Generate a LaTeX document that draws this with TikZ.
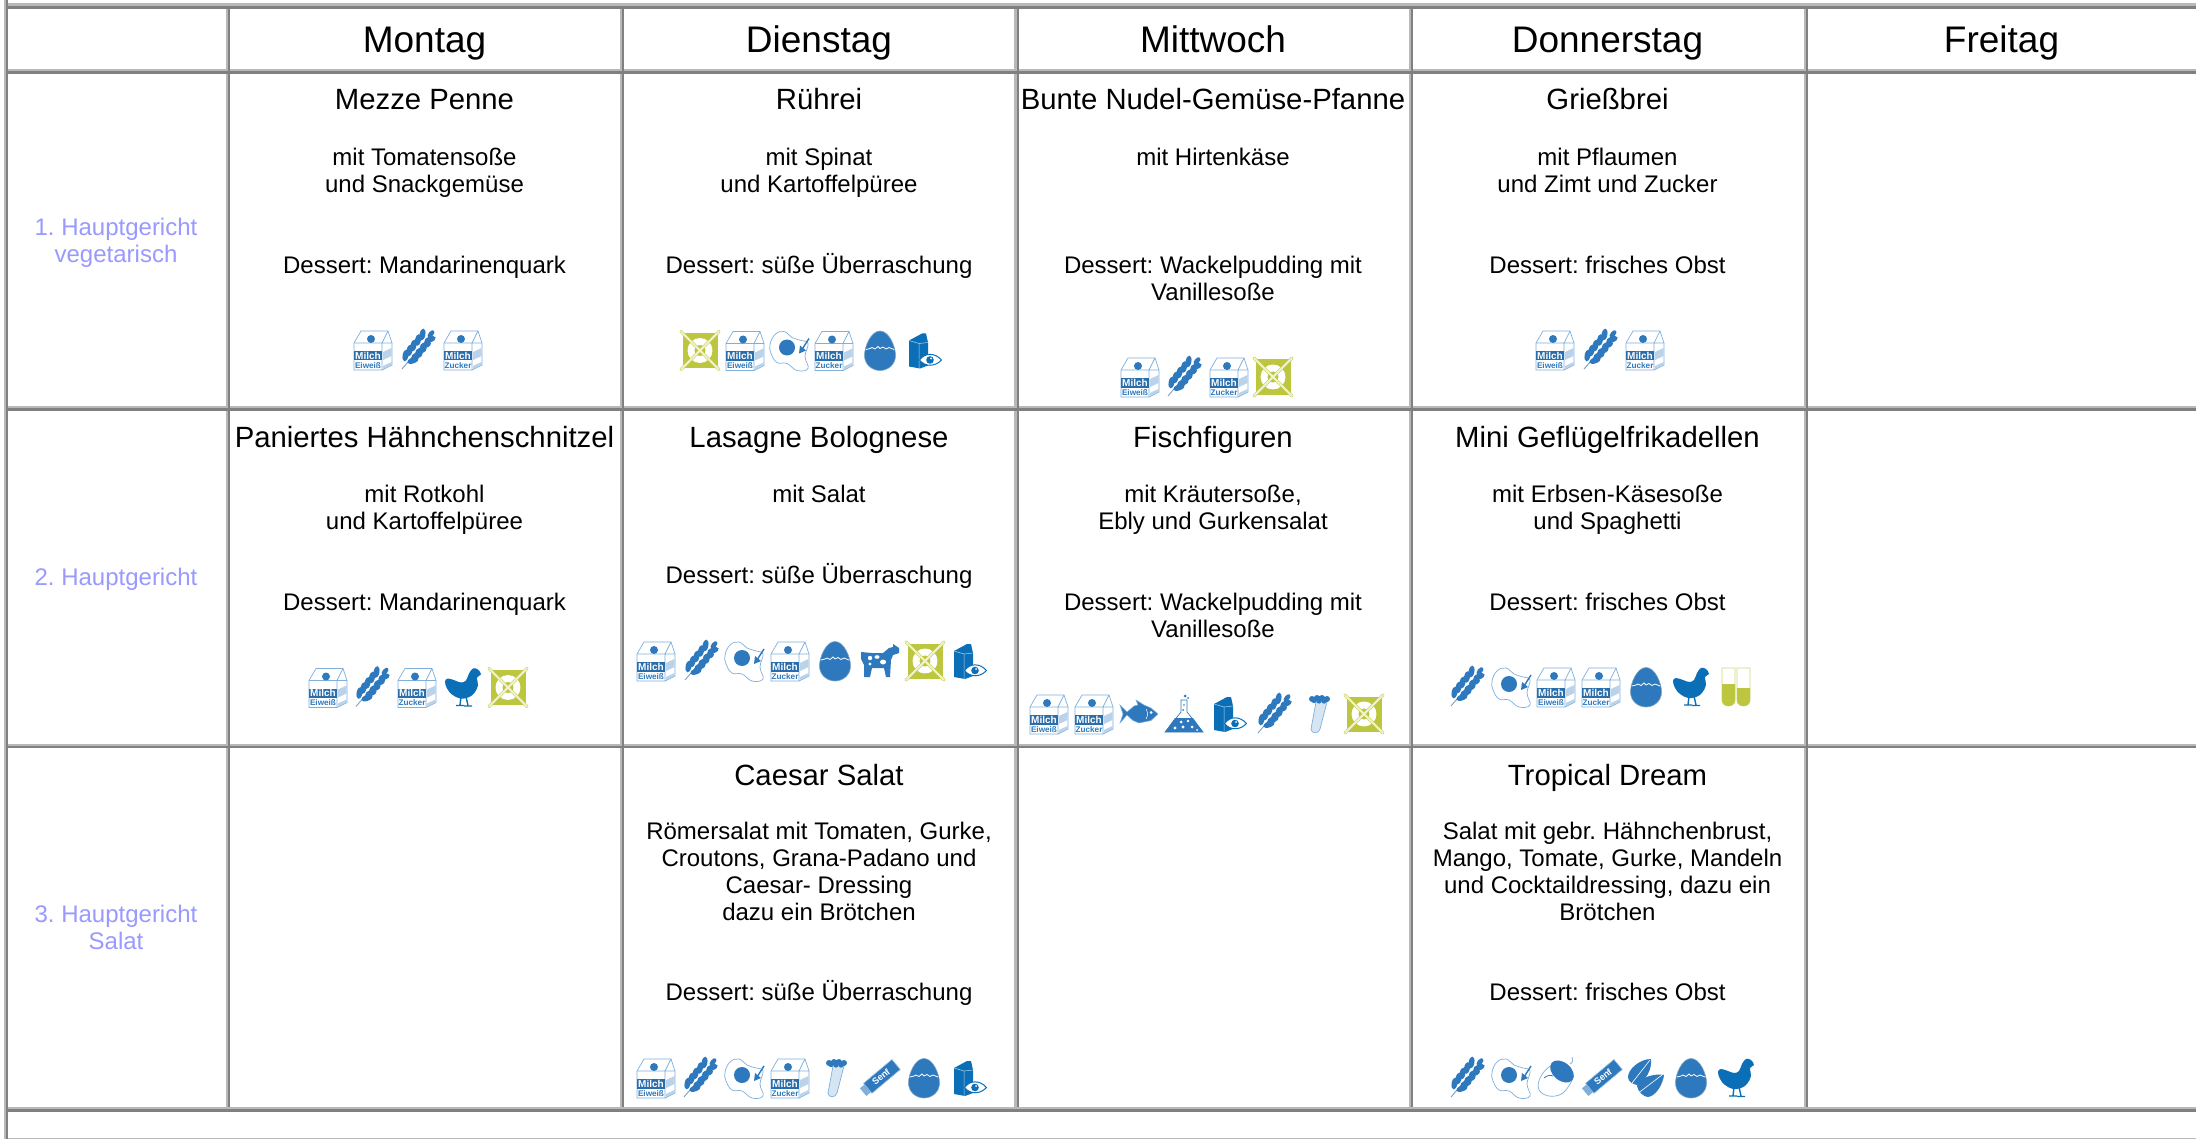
\documentclass[tikz,border=0pt]{standalone}
\usepackage{fontspec}
\setmainfont{Liberation Sans}
\AtBeginDocument{\frenchspacing}
\definecolor{gridlight}{HTML}{B8B8B8}
\definecolor{griddark}{HTML}{808080}
\definecolor{labelblue}{HTML}{9999FF}
\definecolor{iconblue}{HTML}{2E79BD}
\definecolor{deepblue}{HTML}{0B6FB8}
\definecolor{paleblue}{HTML}{7FB0DC}
\definecolor{hatchblue}{HTML}{BAD3EA}
\definecolor{olive}{HTML}{BCC63F}
\definecolor{palecross}{HTML}{F1F3CE}
\tikzset{
  x=0.5pt,y=-0.5pt,
  gl/.style={fill=gridlight,draw=none},
  gd/.style={fill=griddark,draw=none},
  head/.style={anchor=base,font=\fontsize{18.5}{20}\selectfont,inner sep=0pt,yshift=-0.2pt},
  dish/.style={anchor=base,font=\fontsize{14.65}{16}\selectfont,inner sep=0pt,yshift=-0.5pt},
  body/.style={anchor=base,align=center,font=\fontsize{12}{13.5}\selectfont,inner sep=0pt,yshift=-0.2pt},
  rowlabel/.style={body,text=labelblue},
  milkline/.style={draw=paleblue,line width=0.35pt},
  pics/milkE/.style={code={\milkbody{Eiweiß}}},
  pics/milkZ/.style={code={\milkbody{Zucker}}},
  pics/wheat/.style={code={
    \draw[paleblue!70!gray,line width=0.45pt] (-16,19)--(8,-9);
    \foreach \a/\b in {-10/9,-6/4,-2/-1,2.5/-6.5,7/-12}{
      \fill[iconblue,shift={(\a-2.5,\b-3.5)},rotate=80] (0,0) ellipse [x radius=6,y radius=2.9];
      \fill[iconblue,shift={(\a+5,\b+1.5)},rotate=20] (0,0) ellipse [x radius=6,y radius=2.9];
    }
    \fill[iconblue,shift={(13,-16)},rotate=50] (0,0) ellipse [x radius=4.5,y radius=2.5];
  }},
  pics/fried/.style={code={
    \draw[paleblue,line width=0.35pt,fill=white] plot[smooth cycle,tension=.7] coordinates
      {(-19,-6) (-14,-16) (-5,-19) (3,-13) (12,-10) (19,-7) (16,6) (19,18) (8,20) (-2,13) (-12,12) (-18,3)};
    \fill[iconblue] (-2,-3) circle [radius=8];
    \draw[iconblue,line width=0.7pt] (20,-12)--(13,-1);
    \fill[iconblue] (10,3)--(11,-5)--(17,0)--cycle;
  }},
  pics/eggi/.style={code={
    \draw[iconblue!70!gray!70,fill=iconblue,line width=0.3pt]
      (0,-19.5) .. controls (9,-19.5) and (15.5,-4) .. (15.5,5)
      .. controls (15.5,14) and (8,20) .. (0,20)
      .. controls (-8,20) and (-15.5,14) .. (-15.5,5)
      .. controls (-15.5,-4) and (-9,-19.5) .. (0,-19.5) -- cycle;
    \draw[white,line width=0.4pt] (-14,-1)--(-10,-2)--(-8,-3)--(-5,-1.5)--(-2,-4)--(0,-2)--(3,-3.5)--(6,-1.5)--(9,-3)--(14,-1);
  }},
  pics/carton/.style={code={
    \fill[deepblue] (-16,-10)--(-3,-17)--(1,-17)--(3,-8)--(3,15)--(-5,18)--(-16,16)--cycle;
    \draw[white!70!deepblue,line width=0.25pt] (-6,-7)--(-6,18) (-16,-10)--(-6,-7)--(3,-8);
    \draw[deepblue,line width=0.5pt,fill=white] (-5.5,9.5) .. controls (0,2) and (10,2) .. (16.5,9.5) .. controls (10,16.5) and (0,16.5) .. (-5.5,9.5) -- cycle;
    \fill[deepblue] (5,9.5) circle [radius=3.8];
    \fill[white] (6,8) circle [radius=1];
  }},
  pics/cow/.style={code={
    \fill[iconblue] (-19,-9)--(-8,-8)--(3,-8)--(9,-13)--(13,-14)--(13,-17)--(19,-13)--(19,-8)--(13,-6)--(11,-1)--(10,16)--(6,16)--(4,7)--(-8,7)--(-10,16)--(-16,16)--(-16,4)--(-19,-2)--cycle;
    \fill[white] (-10,-3) circle [radius=2.2] (-3,-4) ellipse [x radius=2.5,y radius=1.8] (3,1) ellipse [x radius=3,y radius=2.5] (-10,3) circle [radius=1.6];
  }},
  pics/chicken/.style={code={
    \fill[deepblue] plot[smooth cycle,tension=.6] coordinates
      {(-18,-6) (-15,-9) (-8,-7) (-2,-5) (3,-7) (6,-14) (10,-19) (15,-18) (18,-13) (14,-10) (15,-2) (11,6) (5,10) (-3,11) (-11,7) (-16,1)};
    \draw[deepblue,line width=0.7pt] (-2,9)--(-3,18) (-7,18)--(1,18) (3,9)--(5,18) (1,18.5)--(9,18.5);
  }},
  pics/fish/.style={code={
    \draw[paleblue,fill=iconblue,line width=0.25pt] (-19,-9)--(-12,-2)--(-5,-8)--(-1,-9)--(-3,-14)--(5,-9)--(12,-6)--(19,0)--(12,6.5)--(0,9)--(-6,6.5)--(-12,1)--(-19,9)--(-16,0)--cycle;
    \fill[white] (12,-1.5) circle [radius=1.5];
    \draw[white,line width=0.25pt] (7,-5) .. controls (9,-2) and (9,2) .. (7,5);
  }},
  pics/flask/.style={code={
    \draw[iconblue,line width=0.35pt,fill=white] (-3,-14)--(3,-14)--(3,-2)--(19,18)--(-19,18)--(-3,-2)--cycle;
    \fill[iconblue] (-9,4)--(9,4)--(19,18)--(-19,18)--cycle;
    \fill[white] (-3,8) circle [radius=1.5] (4,7) circle [radius=1.3] (-9,14) circle [radius=1.6] (-1,13) circle [radius=1.6] (8,13) circle [radius=1.5] (13,16) circle [radius=1];
    \fill[iconblue] (1,-18) circle [radius=1.5] (4,-16) circle [radius=1] (-1,-4) circle [radius=1] (0,-9) circle [radius=.8];
  }},
  pics/tube/.style={code={
    \draw[paleblue,fill=hatchblue!60,line width=0.35pt] (-2,-12)--(9,-12)--(2,15) .. controls (1,20) and (-7,20) .. (-7,15)--cycle;
    \fill[iconblue] (-6,-15) circle [radius=3] (-1,-16) circle [radius=3] (4,-16) circle [radius=3] (9,-15) circle [radius=3] (1,-13) circle [radius=2.6] (6,-12.5) circle [radius=2.2] (-4,-13) circle [radius=2.2];
  }},
  pics/senf/.style={code={
    \begin{scope}[rotate=40]
      \draw[paleblue!80,fill=iconblue,line width=0.3pt] (-16,-6.5) rectangle (21,6.5);
      \fill[paleblue] (-22,-5) rectangle (-16,5);
    \end{scope}
    \node[rotate=40,text=white,inner sep=0pt,font=\bfseries\fontsize{4.6}{5}\selectfont] (s) at (1,-1) {Senf};
  }},
  pics/acorn/.style={code={
    \draw[paleblue,fill=white,line width=0.35pt] (-6,-12) .. controls (-14,-6) and (-20,4) .. (-17,12) .. controls (-12,20) and (2,20) .. (8,14) .. controls (12,10) and (15,5) .. (16,2);
    \fill[iconblue,shift={(6,-6.5)},rotate=-40] (0,0) ellipse [x radius=13.5,y radius=9];
    \draw[paleblue,line width=0.4pt] (14,-14) .. controls (18,-16) and (16,-18) .. (16,-21);
    \draw[iconblue,line width=0.4pt] (-12,0) .. controls (-9,-3) and (-5,-3) .. (-3,-2);
  }},
  pics/seeds/.style={code={
    \fill[iconblue] (5,-19) .. controls (-6,-19) and (-18,-9) .. (-18,-1) .. controls (-18,4) and (-13,6) .. (-9,7) .. controls (0,2) and (6,-8) .. (5,-19) -- cycle;
    \fill[iconblue] (18,-3) .. controls (8,-5) and (-8,0) .. (-9,8) .. controls (-8,14) and (-2,19) .. (2,19) .. controls (10,18) and (17,6) .. (18,-3) -- cycle;
    \draw[white,line width=0.3pt] (-14,5)--(4,-18) (-9,16)--(16,-3);
  }},
  pics/tubes/.style={code={
    \foreach \a/\t in {-7.5/-3,7.5/1}{
      \draw[olive!70,fill=white,line width=0.35pt,shift={(\a,0)}] (-6.5,-19)--(6.5,-19)--(6.5,13) .. controls (6.5,21) and (-6.5,21) .. (-6.5,13)--cycle;
      \fill[olive,shift={(\a,0)}] (-6.5,\t)--(6.5,\t)--(6.5,13) .. controls (6.5,21) and (-6.5,21) .. (-6.5,13)--cycle;
    }
  }},
  pics/nosoy/.style={code={
    \fill[olive] (-17.5,-17.5) rectangle (17.5,17.5);
    \draw[white,line width=3.4pt] (0,0) circle [radius=9];
    \draw[olive!90,line width=1.5pt,line cap=round] (-19,-19)--(19,19) (19,-19)--(-19,19);
    \draw[palecross,line width=1pt,line cap=round] (-19,-19)--(19,19) (19,-19)--(-19,19);
  }},
}
\newcommand{\milkbody}[1]{%
  \draw[milkline,fill=white] (-19,-7)--(-12,-19)--(15,-19)--(19,-7)--(19,15)--(9,20)--(-19,20)--cycle;
  \draw[milkline] (-19,-7)--(9,-7)--(15,-19) (9,-7)--(19,-7) (9,-7)--(9,20);
  \fill[iconblue] (-2,-11) circle [radius=4];
  \fill[hatchblue] (10,2)--(18.5,-2)--(18.5,6)--(10,10)--cycle (10,16)--(18.5,12)--(18.5,15)--(10,19)--cycle;
  \fill[iconblue!90!black] (-19,1) rectangle (9,10.5);
  \node[inner sep=0pt,text=white,font=\bfseries\fontsize{5}{6}\selectfont] (m) at (-5,5.8) {Milch};
  \node[inner sep=0pt,text=iconblue,font=\bfseries\fontsize{4.1}{4.5}\selectfont] (e) at (-5,15.3) {#1};
}
\begin{document}
\begin{tikzpicture}
\useasboundingbox (0,0) rectangle (2196,1139);
\fill[white] (0,0) rectangle (2196,1139);
\clip (0,0) rectangle (2196,1139);
% light bands of horizontal rules
\foreach \a/\b in {3.3/6,69.3/71.5,406/408,743.5/745.5,1107.3/1109}
  \fill[gl] (8,\a) rectangle (2196,\b);
\fill[gl] (8,1137.7) rectangle (2196,1139);
% verticals
\foreach \v in {228,622,1016.5,1411,1806}{
  \fill[gl] (\v-2.5,8) rectangle (\v,1107.3);
  \fill[gd] (\v,8) rectangle (\v+2,1107.3);
}
% dark bands
\foreach \a/\b in {6/9,71.5/73.7,408/410.6,745.5/748,1109/1111.7}
  \fill[gd] (8,\a) rectangle (2196,\b);
% outer left border
\fill[gl] (4,0) rectangle (6,1139);
\fill[gd] (6,0) rectangle (8.4,1139);
% headers
\node[head] (h1) at (424.5,52) {Montag};
\node[head] (h2) at (819,52) {Dienstag};
\node[head] (h3) at (1213,52) {Mittwoch};
\node[head] (h4) at (1607.5,52) {Donnerstag};
\node[head] (h5) at (2001.5,52) {Freitag};
% row labels
\node[rowlabel] (r1a) at (116,235) {1. Hauptgericht};
\node[rowlabel] (r1b) at (116,262) {vegetarisch};
\node[rowlabel] (r2a) at (116,585) {2. Hauptgericht};
\node[rowlabel] (r3a) at (116,922) {3. Hauptgericht};
\node[rowlabel] (r3b) at (116,949) {Salat};
% row 1
\node[dish] (a1) at (424.5,109) {Mezze Penne};
\node[body] (a2) at (424.5,165) {mit Tomatensoße};
\node[body] (a3) at (424.5,192) {und Snackgemüse};
\node[body] (a4) at (424.5,273) {Dessert: Mandarinenquark};
\node[dish] (b1) at (819,109) {Rührei};
\node[body] (b2) at (819,165) {mit Spinat};
\node[body] (b3) at (819,192) {und Kartoffelpüree};
\node[body] (b4) at (819,273) {Dessert: süße Überraschung};
\node[dish] (c1) at (1213,109) {Bunte Nudel-Gemüse-Pfanne};
\node[body] (c2) at (1213,165) {mit Hirtenkäse};
\node[body] (c4) at (1213,273) {Dessert: Wackelpudding mit};
\node[body] (c5) at (1213,300) {Vanillesoße};
\node[dish] (d1) at (1607.5,109) {Grießbrei};
\node[body] (d2) at (1607.5,165) {mit Pflaumen};
\node[body] (d3) at (1607.5,192) {und Zimt und Zucker};
\node[body] (d4) at (1607.5,273) {Dessert: frisches Obst};
% row 2
\node[dish] (e1) at (424.5,446) {Paniertes Hähnchenschnitzel};
\node[body] (e2) at (424.5,502) {mit Rotkohl};
\node[body] (e3) at (424.5,529) {und Kartoffelpüree};
\node[body] (e4) at (424.5,610) {Dessert: Mandarinenquark};
\node[dish] (f1) at (819,446) {Lasagne Bolognese};
\node[body] (f2) at (819,502) {mit Salat};
\node[body] (f4) at (819,583) {Dessert: süße Überraschung};
\node[dish] (g1) at (1213,446) {Fischfiguren};
\node[body] (g2) at (1213,502) {mit Kräutersoße,};
\node[body] (g3) at (1213,529) {Ebly und Gurkensalat};
\node[body] (g4) at (1213,610) {Dessert: Wackelpudding mit};
\node[body] (g5) at (1213,637) {Vanillesoße};
\node[dish] (k1) at (1607.5,446) {Mini Geflügelfrikadellen};
\node[body] (k2) at (1607.5,502) {mit Erbsen-Käsesoße};
\node[body] (k3) at (1607.5,529) {und Spaghetti};
\node[body] (k4) at (1607.5,610) {Dessert: frisches Obst};
% row 3
\node[dish] (p1) at (819,784) {Caesar Salat};
\node[body] (p2) at (819,839) {Römersalat mit Tomaten, Gurke,};
\node[body] (p3) at (819,866) {Croutons, Grana-Padano und};
\node[body] (p4) at (819,893) {Caesar- Dressing};
\node[body] (p5) at (819,920) {dazu ein Brötchen};
\node[body] (p6) at (819,1000) {Dessert: süße Überraschung};
\node[dish] (q1) at (1607.5,784) {Tropical Dream};
\node[body] (q2) at (1607.5,839) {Salat mit gebr. Hähnchenbrust,};
\node[body] (q3) at (1607.5,866) {Mango, Tomate, Gurke, Mandeln};
\node[body] (q4) at (1607.5,893) {und Cocktaildressing, dazu ein};
\node[body] (q5) at (1607.5,920) {Brötchen};
\node[body] (q6) at (1607.5,1000) {Dessert: frisches Obst};
% icons
\foreach \i/\px/\py/\k in {
  1/373/350/milkE,2/418/350/wheat,3/463/350/milkZ,
  4/700/350.5/nosoy,5/745/350.5/milkE,6/789/350.5/fried,7/834/350.5/milkZ,8/880/350.5/eggi,9/925/350.5/carton,
  10/1140/377/milkE,11/1184/377/wheat,12/1229/377/milkZ,13/1273/377/nosoy,
  14/1555/350/milkE,15/1600/350/wheat,16/1645/350/milkZ,
  17/328/687.5/milkE,18/372/687.5/wheat,19/417/687.5/milkZ,20/463/687.5/chicken,21/508/687.5/nosoy,
  22/656/661/milkE,23/701/661/wheat,24/744/661/fried,25/790/661/milkZ,26/835/661/eggi,27/880/661/cow,28/925/661/nosoy,29/970/661/carton,
  30/1049/714/milkE,31/1094/714/milkZ,32/1139/714/fish,33/1184/714/flask,34/1230/714/carton,35/1274/714/wheat,36/1318/714/tube,37/1364/714/nosoy,
  38/1467/687/wheat,39/1511/687/fried,40/1556/687/milkE,41/1601/687/milkZ,42/1646/687/eggi,43/1691/687/chicken,44/1736/687/tubes,
  45/656/1078/milkE,46/700/1078/wheat,47/744/1078/fried,48/790/1078/milkZ,49/835/1078/tube,50/880/1078/senf,51/924/1078/eggi,52/970/1078/carton,
  53/1467/1078/wheat,54/1511/1078/fried,55/1556/1078/acorn,56/1602/1078/senf,57/1646/1078/seeds,58/1691/1078/eggi,59/1736/1078/chicken}
  \pic (ic\i) at (\px,\py) {\k};
\end{tikzpicture}
\end{document}
